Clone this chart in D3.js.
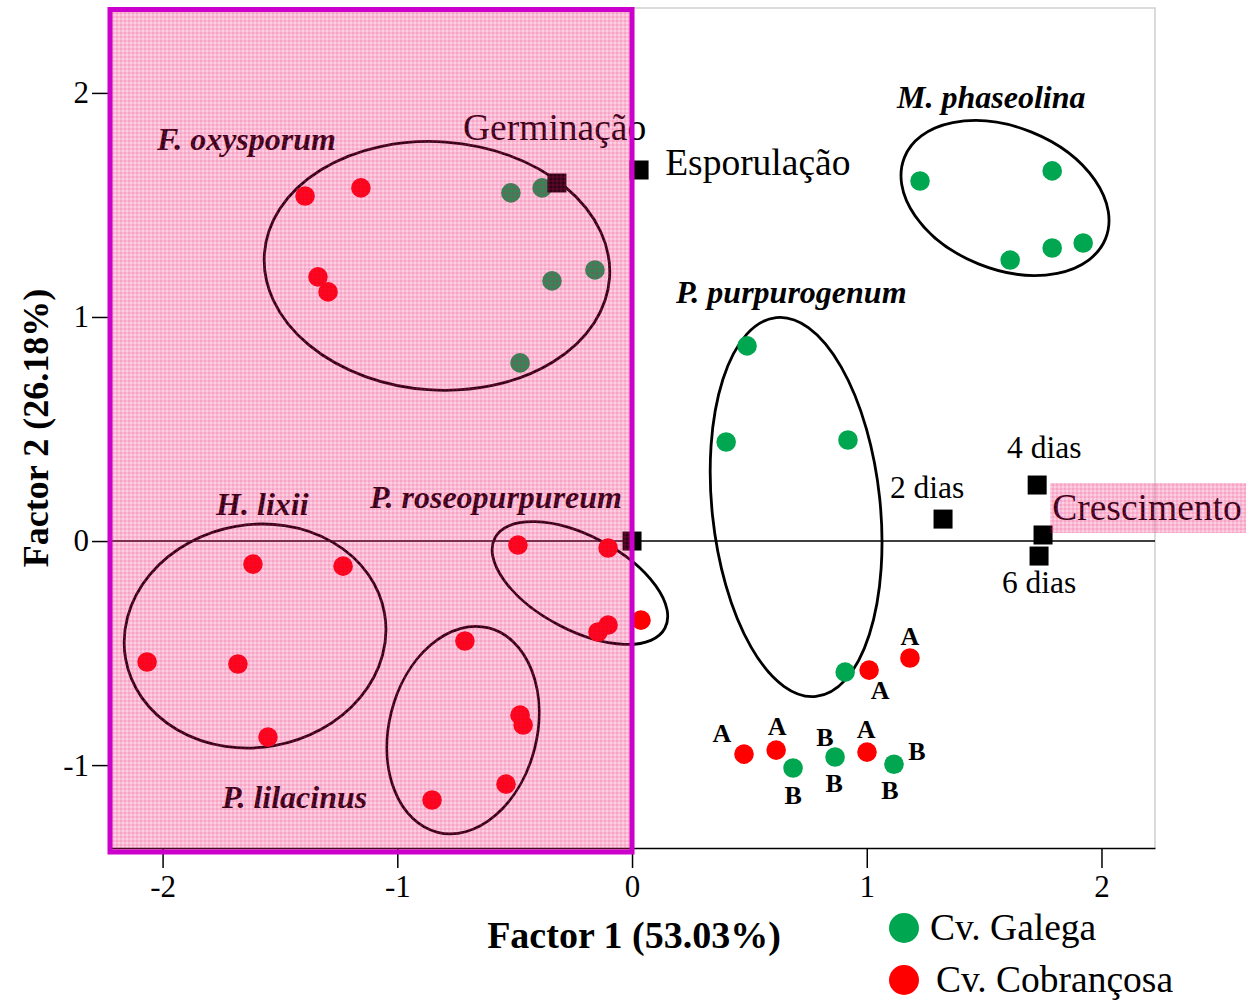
<html>
<head>
  <script src="https://d3js.org/d3.v7.min.js"></script>
  <style>
    body { margin: 0; background: #fff; }
    text { font-family: "Liberation Serif", "Times New Roman", serif; }
  </style>
</head>
<body>
  <svg id="chart" width="1246" height="1001"></svg>
  <script>
    // Factor scores
    let galega = [
      [-0.516, 1.554], [-0.383, 1.576], [-0.158, 1.21], [-0.341, 1.161], [-0.477, 0.795],
      [1.227, 1.607], [1.790, 1.652], [1.611, 1.254], [1.790, 1.308], [1.922, 1.330],
      [0.490, 0.871], [0.401, 0.442], [0.920, 0.451], [0.908, -0.585],
      [0.686, -1.013], [0.865, -0.964], [1.116, -0.996]
    ];
    let cobrancosa = [
      [-1.393, 1.540], [-1.155, 1.576], [-1.338, 1.179], [-1.295, 1.112],
      [-1.615, -0.103], [-1.231, -0.112], [-2.066, -0.540], [-1.679, -0.549], [-1.551, -0.875],
      [-0.486, -0.018], [-0.102, -0.031], [0.038, -0.353], [-0.102, -0.375], [-0.145, -0.406],
      [-0.712, -0.446], [-0.477, -0.777], [-0.464, -0.821], [-0.537, -1.085], [-0.852, -1.156],
      [0.477, -0.951], [0.614, -0.933], [1.001, -0.942], [1.010, -0.576], [1.184, -0.522]
    ];
    // variables (squares)
    let variables = [
      [-0.320, 1.598], [0.030, 1.656], [0.0, 0.0], [1.325, 0.098], [1.726, 0.25], [1.751, 0.027], [1.734, -0.067]
    ];
    let varLabels = [
      ["Germinação", -0.720, 1.790, 37.5],
      ["Esporulação", 0.141, 1.634, 37.5],
      ["2 dias", 1.099, 0.192, 31.5],
      ["4 dias", 1.598, 0.371, 31.5],
      ["6 dias", 1.576, -0.232, 31.5]
    ];
    let crescimento = ["Crescimento", 1.790, 0.094];
    // species groups: name, label x, label y, ellipse cx, cy, rx(x units), ry(y units), rotation
    let species = [
      ["F. oxysporum", -2.024, 1.746, -0.831, 1.228, 0.737, 0.554, 4],
      ["M. phaseolina", 1.129, 1.933, 1.589, 1.531, 0.462, 0.317, 22],
      ["P. purpurogenum", 0.187, 1.0625, 0.699, 0.152, 0.358, 0.850, -6],
      ["H. lixii", -1.772, 0.116, -1.606, -0.424, 0.560, 0.497, -10],
      ["P. roseopurpureum", -1.116, 0.147, -0.222, -0.1875, 0.410, 0.210, 28],
      ["P. lilacinus", -1.747, -1.192, -0.720, -0.844, 0.315, 0.470, 14]
    ];
    let letters = [
      ["A", 0.383, -0.857], ["A", 0.618, -0.826], ["B", 0.822, -0.875], ["A", 0.997, -0.839],
      ["B", 1.214, -0.9375], ["B", 0.686, -1.134], ["B", 0.861, -1.080], ["B", 1.099, -1.112],
      ["A", 1.057, -0.665], ["A", 1.184, -0.424]
    ];
    let xTicks = [-2, -1, 0, 1, 2];
    let yTicks = [-1, 0, 1, 2];
    let legend = [["Cv. Galega", "#00a650"], ["Cv. Cobrançosa", "#ff0000"]];

    let svg = d3.select("#chart");
    let x = d3.scaleLinear().domain([-2.224, 2.228]).range([110, 1155]);
    let y = d3.scaleLinear().domain([-1.37, 2.379]).range([848, 8]);

    // pink hatch pattern
    let defs = svg.append("defs");
    let pat = defs.append("pattern").attr("id", "pink")
      .attr("patternUnits", "userSpaceOnUse").attr("width", 4).attr("height", 4);
    pat.append("rect").attr("width", 4).attr("height", 4).attr("fill", "rgb(240,20,110)").attr("fill-opacity", 0.2);
    pat.append("rect").attr("width", 2).attr("height", 4).attr("fill", "rgb(240,20,110)").attr("fill-opacity", 0.12);
    pat.append("rect").attr("width", 4).attr("height", 2).attr("fill", "rgb(240,20,110)").attr("fill-opacity", 0.12);

    // frame
    svg.append("path")
      .attr("d", `M${x.range()[0]},${y.range()[1]}H${x.range()[1]}V${y.range()[0]}`)
      .attr("fill", "none").attr("stroke", "#cfcfcf").attr("stroke-width", 1.5);

    // axes
    svg.append("g").attr("transform", `translate(0,${y.range()[0]})`)
      .call(d3.axisBottom(x).tickValues(xTicks).tickFormat(d => String(d)).tickSize(20).tickSizeOuter(0).tickPadding(7));
    svg.append("g").attr("transform", `translate(${x.range()[0]},0)`)
      .call(d3.axisLeft(y).tickValues(yTicks).tickFormat(d => String(d)).tickSize(18).tickSizeOuter(0).tickPadding(3));
    svg.selectAll(".tick text").attr("font-family", "Liberation Serif").attr("font-size", 31).attr("fill", "#000");
    svg.selectAll(".domain, .tick line").attr("stroke", "#000").attr("stroke-width", 1.5);

    // zero line
    svg.append("line").attr("x1", x.range()[0]).attr("x2", x.range()[1])
      .attr("y1", y(0)).attr("y2", y(0)).attr("stroke", "#000").attr("stroke-width", 1.5);

    // axis titles
    svg.append("text").attr("x", x(0)+2).attr("y", 948).attr("text-anchor", "middle")
      .attr("font-size", 38).attr("font-weight", "bold").text("Factor 1 (53.03%)");
    svg.append("text").attr("transform", `translate(48,${(y(2) + y(-1)) / 2 - 1}) rotate(-90)`)
      .attr("text-anchor", "middle").attr("font-size", 36).attr("font-weight", "bold").text("Factor 2 (26.18%)");

    // ellipses
    svg.selectAll(".ell").data(species).join("ellipse")
      .attr("class", "ell")
      .attr("transform", d => `translate(${x(d[3])},${y(d[4])}) rotate(${d[7]})`)
      .attr("rx", d => x(d[5]) - x(0))
      .attr("ry", d => y(0) - y(d[6]))
      .attr("fill", "none").attr("stroke", "#000").attr("stroke-width", 2.8);

    // species labels
    svg.selectAll(".sp").data(species).join("text")
      .attr("class", "sp")
      .attr("x", d => x(d[1])).attr("y", d => y(d[2]))
      .attr("font-size", 32).attr("font-weight", "bold").attr("font-style", "italic")
      .text(d => d[0]);

    // points
    svg.selectAll(".g").data(galega).join("circle").attr("class", "g")
      .attr("cx", d => x(d[0])).attr("cy", d => y(d[1])).attr("r", 9.8)
      .attr("fill", "#00a650");
    svg.selectAll(".r").data(cobrancosa).join("circle").attr("class", "r")
      .attr("cx", d => x(d[0])).attr("cy", d => y(d[1])).attr("r", 9.8)
      .attr("fill", "#ff0000");

    // variables
    svg.selectAll(".sq").data(variables).join("rect").attr("class", "sq")
      .attr("x", d => x(d[0]) - 9.5).attr("y", d => y(d[1]) - 9.5)
      .attr("width", 19).attr("height", 19).attr("fill", "#000");
    svg.selectAll(".vl").data(varLabels).join("text").attr("class", "vl")
      .attr("x", d => x(d[1])).attr("y", d => y(d[2]))
      .attr("font-size", d => d[3]).text(d => d[0]);
    let cr = svg.append("text").attr("x", x(crescimento[1])).attr("y", y(crescimento[2]))
      .attr("font-size", 37.5).text(crescimento[0]);

    // letters
    svg.selectAll(".lt").data(letters).join("text").attr("class", "lt")
      .attr("x", d => x(d[1])).attr("y", d => y(d[2]))
      .attr("text-anchor", "middle").attr("dominant-baseline", "central")
      .attr("font-size", 26).attr("font-weight", "bold").text(d => d[0]);

    // pink overlays
    let b = cr.node().getBBox();
    svg.append("rect").attr("x", b.x - 2).attr("y", y(crescimento[2]) - 37)
      .attr("width", 1246 - b.x + 2).attr("height", 50).attr("fill", "url(#pink)");
    svg.append("rect")
      .attr("x", x.range()[0]).attr("y", y.range()[1] + 1.5)
      .attr("width", x(0) - x.range()[0]).attr("height", y.range()[0] - y.range()[1] + 2.5)
      .attr("fill", "url(#pink)").attr("stroke", "#cc00cc").attr("stroke-width", 5);

    // legend
    let lg = svg.selectAll(".lg").data(legend).join("g").attr("class", "lg")
      .attr("transform", (d, i) => `translate(904,${928 + i * 52})`);
    lg.append("circle").attr("r", 15).attr("fill", d => d[1]);
    lg.append("text").attr("x", (d, i) => 26 + i * 6).attr("y", 12).attr("font-size", 37.5).text(d => d[0]);
  </script>
</body>
</html>
